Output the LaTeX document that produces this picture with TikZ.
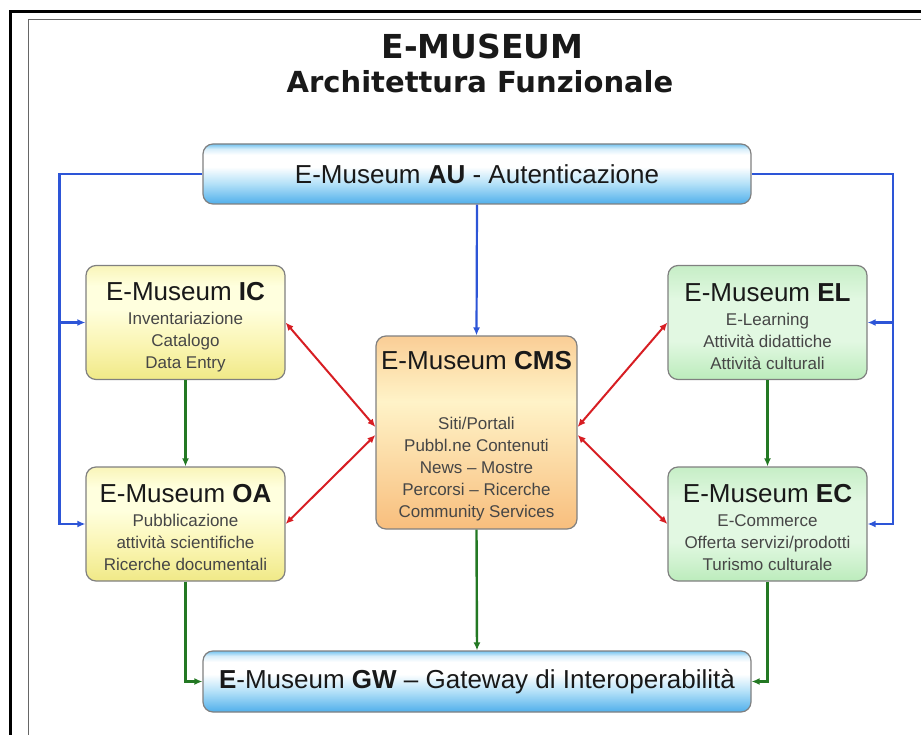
\documentclass[tikz,border=0pt]{standalone}
\usepackage{fontspec}
\setmainfont{Liberation Sans}
\newfontfamily\titlefont{DejaVu Sans}
\usetikzlibrary{arrows.meta,calc}

\definecolor{boxgray}{RGB}{128,128,128}
\definecolor{subgray}{RGB}{70,70,70}
\definecolor{titleblack}{RGB}{25,25,25}
\definecolor{lineblue}{RGB}{45,85,215}
\definecolor{linered}{RGB}{215,30,35}
\definecolor{linegreen}{RGB}{35,120,35}
% blue
\definecolor{bBot}{RGB}{80,175,235}
\definecolor{bMid}{RGB}{180,225,248}
\definecolor{bTop}{RGB}{115,195,240}
\definecolor{bTop2}{RGB}{215,238,250}
% yellow
\definecolor{yBot}{RGB}{240,233,135}
\definecolor{yMid}{RGB}{250,245,178}
\definecolor{yLight}{RGB}{255,255,222}
\definecolor{yTop}{RGB}{249,245,185}
% green
\definecolor{gBot}{RGB}{188,236,188}
\definecolor{gMid}{RGB}{226,248,226}
\definecolor{gTop}{RGB}{198,238,198}
% orange
\definecolor{oBot}{RGB}{248,190,125}
\definecolor{oMid}{RGB}{252,222,170}
\definecolor{oLight}{RGB}{255,243,200}
\definecolor{oTop}{RGB}{250,205,150}

\pgfdeclareverticalshading{blueshade}{100bp}{color(0bp)=(bBot); color(25bp)=(bBot); color(42bp)=(bMid); color(56bp)=(white); color(66bp)=(white); color(71bp)=(bTop2); color(75bp)=(bTop); color(100bp)=(bTop)}
\pgfdeclareverticalshading{yellowshade}{100bp}{color(0bp)=(yBot); color(25bp)=(yBot); color(40bp)=(yMid); color(56bp)=(yLight); color(66bp)=(yLight); color(75bp)=(yTop); color(100bp)=(yTop)}
\pgfdeclareverticalshading{greenshade}{100bp}{color(0bp)=(gBot); color(25bp)=(gBot); color(42bp)=(gMid); color(60bp)=(gMid); color(75bp)=(gTop); color(100bp)=(gTop)}
\pgfdeclareverticalshading{orangeshade}{100bp}{color(0bp)=(oBot); color(25bp)=(oBot); color(45bp)=(oMid); color(58bp)=(oLight); color(68bp)=(oMid); color(75bp)=(oTop); color(100bp)=(oTop)}

\newcommand{\boxtitle}[2]{{\fontsize{26}{26}\selectfont\color{titleblack}\rule{0pt}{#1}E-Museum \textbf{#2}}}

\begin{document}
\begin{tikzpicture}[x=1pt,y=-1pt,
  box/.style={draw=boxgray, line width=1.2pt, rounded corners=10pt, align=center,
    inner sep=0pt, text=subgray, font=\fontsize{17}{22}\selectfont},
  bluebox/.style={box, shading=blueshade, minimum width=548pt, minimum height=60pt,
    font=\fontsize{26}{30}\selectfont, text=titleblack},
  yellowbox/.style={box, shading=yellowshade, minimum width=199pt, minimum height=114pt},
  greenbox/.style={box, shading=greenshade, minimum width=199pt, minimum height=114pt},
  orangebox/.style={box, shading=orangeshade, minimum width=201pt, minimum height=193pt},
  tip/.style={-{Latex[length=8pt,width=7pt]}},
  bothtips/.style={{Latex[length=8pt,width=7pt]}-{Latex[length=8pt,width=7pt]}},
  blueline/.style={draw=lineblue, line width=2.2pt, tip},
  redline/.style={draw=linered, line width=2pt, bothtips},
  greenline/.style={draw=linegreen, line width=2.4pt, tip}
]
\useasboundingbox (0,0) rectangle (921,735);

% frame
\draw[line width=3pt, black] (10.5,735) -- (10.5,11.5) -- (921,11.5);
\draw[line width=1.6pt, black!60] (28.5,735) -- (28.5,19.5) -- (921,19.5);

% titles
\node[anchor=base, text=titleblack, font=\titlefont\bfseries\fontsize{33}{33}\selectfont] (t1) at (482.5,59) {E-MUSEUM};
\node[anchor=base, text=titleblack, font=\titlefont\bfseries\fontsize{29}{30}\selectfont] (t2) at (480,93) {Architettura Funzionale};

% boxes
\node[bluebox] (au) at (477,174) {E-Museum \textbf{AU} - Autenticazione};
\node[bluebox, minimum height=61pt] (gw) at (477,681.5) {\textbf{E}-Museum \textbf{GW} – Gateway di Interoperabilità};

\node[yellowbox] (ic) at (185.5,322.5) {\boxtitle{27pt}{IC}\\[2pt]Inventariazione\\Catalogo\\Data Entry};
\node[yellowbox] (oa) at (185.5,524) {\boxtitle{26pt}{OA}\\[2pt]Pubblicazione\\attività scientifiche\\Ricerche documentali};
\node[greenbox] (el) at (767.5,322.5) {\boxtitle{27pt}{EL}\\[2pt]E-Learning\\Attività didattiche\\Attività culturali};
\node[greenbox] (ec) at (767.5,524) {\boxtitle{26pt}{EC}\\[2pt]E-Commerce\\Offerta servizi/prodotti\\Turismo culturale};
\node[orangebox] (cms) at (476.5,432.5) {\boxtitle{26pt}{CMS}\\[38pt]Siti/Portali\\Pubbl.ne Contenuti\\News – Mostre\\Percorsi – Ricerche\\Community Services};

% blue connectors
\coordinate (lx) at (59.5,174);
\coordinate (rx) at (893,174);
\draw[blueline] (au.west) -- (lx) |- (oa.west);
\draw[blueline] (lx |- ic.west) -- (ic.west);
\draw[blueline] (au.east) -- (rx) |- (ec.east);
\draw[blueline] (rx |- el.east) -- (el.east);
\draw[blueline] (au.south) -- (cms.north);

% red connectors
\draw[redline] (ic.east) -- ($(cms.west)+(0,-5.5)$);
\draw[redline] (oa.east) -- ($(cms.west)+(0,2.5)$);
\draw[redline] (el.west) -- ($(cms.east)+(0,-5.5)$);
\draw[redline] (ec.west) -- ($(cms.east)+(0,2.5)$);

% green connectors
\draw[greenline] (ic.south) -- (oa.north);
\draw[greenline] (el.south) -- (ec.north);
\draw[greenline] (cms.south) -- (gw.north);
\draw[greenline] (oa.south) |- (gw.west);
\draw[greenline] (ec.south) |- (gw.east);
\end{tikzpicture}
\end{document}
